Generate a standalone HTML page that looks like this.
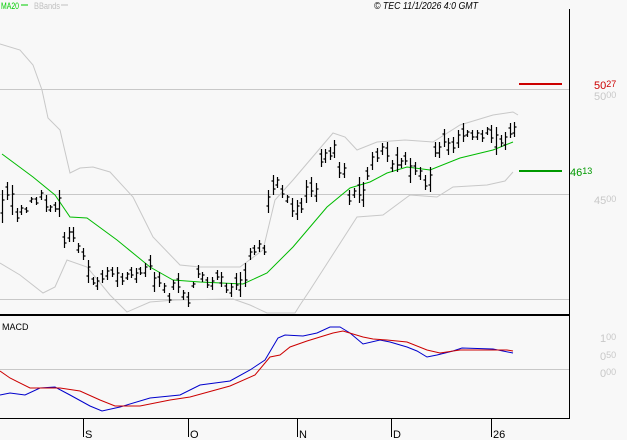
<!DOCTYPE html>
<html><head><meta charset="utf-8"><style>
html,body{margin:0;padding:0;background:#f8f8f8;}
svg{display:block;font-family:"Liberation Sans",sans-serif;}
</style></head><body>
<svg width="627" height="440" viewBox="0 0 627 440" xmlns="http://www.w3.org/2000/svg">
<rect width="627" height="440" fill="#f8f8f8"/>
<!-- header -->
<text x="1" y="9" font-size="9" fill="#00cc00" textLength="18" lengthAdjust="spacingAndGlyphs">MA20</text>
<line x1="21" y1="5" x2="28" y2="5" stroke="#00cc00"/>
<text x="34" y="9" font-size="9" fill="#c0c0c0" textLength="26" lengthAdjust="spacingAndGlyphs">BBands</text>
<line x1="61" y1="5" x2="68" y2="5" stroke="#c0c0c0"/>
<text x="374" y="9" font-size="10" font-style="italic" fill="#000" textLength="104" lengthAdjust="spacingAndGlyphs">© TEC 11/1/2026 4:0 GMT</text>
<!-- grid -->
<g stroke="#c8c8c8" stroke-width="1">
<line x1="0" y1="89.5" x2="569" y2="89.5"/>
<line x1="0" y1="194.5" x2="569" y2="194.5"/>
<line x1="0" y1="299.5" x2="569" y2="299.5"/>
<line x1="0" y1="369.5" x2="569" y2="369.5"/>
</g>
<!-- bbands -->
<g fill="none" stroke="#c8c8c8" stroke-width="1">
<polyline points="0,44 20,50 33,65 42,90 48,118 60,130 70,173 80,168 93,167 110,172 133,197 153,237 180,265 200,267 240,267 263,250 275,200 293,180 333,133 345,137 357,150 377,142 405,140 433,142 460,125 493,115 513,112 518,115"/>
<polyline points="0,263 20,275 43,293 55,287 67,260 87,267 110,295 127,312 150,302 175,300 233,299 250,305 267,313 295,313 300,305 310,290 357,217 383,215 410,195 437,197 453,187 487,185 505,181 513,172"/>
</g>
<polyline fill="none" stroke="#00bb00" stroke-width="1" points="2,154 33,177 55,195 70,217 87,218 117,240 150,267 173,280 200,282 243,284 267,273 293,247 327,207 350,188 370,182 387,173 407,167 430,170 460,158 493,150 513,142"/>
<!-- bars -->
<path id="bars" fill="none" stroke="#000" stroke-width="1.2" d=""/>
<!-- markers -->
<rect x="519" y="83" width="43" height="2" fill="#cc0000"/>
<rect x="519" y="170" width="43" height="2" fill="#009900"/>
<text x="594" y="89" font-size="11" fill="#cc0000">50<tspan font-size="9" dy="-2">27</tspan></text>
<text x="594" y="100" font-size="11" fill="#c8c8c8">50<tspan font-size="9" dy="-2">00</tspan></text>
<text x="570" y="176" font-size="11" fill="#009900">46<tspan font-size="9" dy="-2">13</tspan></text>
<text x="594" y="204" font-size="11" fill="#c8c8c8">45<tspan font-size="9" dy="-2">00</tspan></text>
<!-- frame -->
<line x1="569.5" y1="9" x2="569.5" y2="419" stroke="#000"/>
<rect x="0" y="314" width="570" height="2" fill="#000"/>
<line x1="0" y1="418.5" x2="570" y2="418.5" stroke="#000"/>
<!-- macd -->
<text x="2" y="330" font-size="9" fill="#000">MACD</text>
<polyline fill="none" stroke="#0000cc" stroke-width="1" points="0,395 10,393 25,395 40,388 55,387 70,395 90,406 102,411 120,407 150,398 180,395 200,385 230,381 250,370 265,360 278,338 285,335 303,336 317,333 330,327 340,327 350,333 363,344 380,340 390,342 407,347 417,351 427,357 437,355 453,351 462,348 493,349 513,353"/>
<polyline fill="none" stroke="#cc0000" stroke-width="1" points="0,371 10,378 30,388 60,388 80,391 100,400 115,406 140,406 170,400 190,397 230,386 255,375 270,357 280,355 290,347 307,341 320,337 333,333 343,331 363,337 373,339 387,340 407,342 427,350 440,353 460,350 507,350 513,351"/>
<text x="600" y="342" font-size="11" fill="#c8c8c8">1<tspan font-size="9" dy="-2">00</tspan></text>
<text x="600" y="360" font-size="11" fill="#c8c8c8">0<tspan font-size="9" dy="-2">50</tspan></text>
<text x="600" y="377" font-size="11" fill="#c8c8c8">0<tspan font-size="9" dy="-2">00</tspan></text>
<!-- x axis -->
<g stroke="#000">
<line x1="83.5" y1="419" x2="83.5" y2="437"/>
<line x1="188.5" y1="419" x2="188.5" y2="437"/>
<line x1="297.5" y1="419" x2="297.5" y2="437"/>
<line x1="391.5" y1="419" x2="391.5" y2="437"/>
<line x1="491.5" y1="419" x2="491.5" y2="437"/>
</g>
<g font-size="11" fill="#000">
<text x="85" y="438">S</text>
<text x="190" y="438">O</text>
<text x="299" y="438">N</text>
<text x="393" y="438">D</text>
<text x="493" y="438">26</text>
</g>
</svg>
<script>
var b=[[2,190,223],[7,182,200],[12,185,215],[17,208,222],[21,205,215],[26,207,213],[31,197,203],[36,197,205],[41,190,200],[46,195,212],[50,205,212],[55,202,212],[59,190,217],[64,232,248],[69,227,242],[73,227,242],[78,243,253],[83,248,260],[88,260,283],[93,277,285],[97,277,290],[102,270,283],[107,267,280],[112,267,277],[117,267,287],[122,273,285],[127,272,280],[131,267,278],[136,268,283],[140,267,275],[145,263,277],[150,255,270],[154,272,292],[159,272,287],[164,283,293],[169,293,303],[173,280,290],[178,273,293],[183,290,300],[188,292,307],[193,282,288],[198,265,278],[202,272,282],[207,277,288],[212,277,290],[217,270,280],[221,272,287],[226,283,293],[231,283,297],[236,273,290],[240,272,297],[245,263,287],[250,248,260],[254,245,255],[259,240,252],[264,245,255],[268,190,213],[273,175,195],[277,177,188],[282,185,198],[287,195,203],[292,198,217],[297,200,220],[301,198,213],[306,180,203],[311,177,197],[316,183,202],[321,149,167],[325,149,163],[330,147,160],[334,140,158],[339,162,178],[344,163,178],[349,190,205],[354,188,198],[359,177,203],[363,182,207],[367,167,180],[372,152,170],[377,148,162],[382,143,155],[387,142,162],[392,160,172],[397,147,172],[401,158,168],[405,152,165],[410,158,183],[415,162,175],[420,167,180],[425,175,190],[430,167,192],[435,142,157],[439,142,158],[444,129,147],[448,138,155],[453,137,153],[458,130,148],[463,123,142],[467,130,137],[472,130,140],[477,130,140],[482,130,142],[487,127,135],[491,125,143],[496,127,155],[501,135,147],[505,132,150],[510,123,138],[514,122,137]];
var d="";b.forEach(function(r,i){var x=r[0]+0.5,h=r[1],l=r[2],o=h+(l-h)*(i%2?0.3:0.7),c=h+(l-h)*(i%2?0.7:0.3);
d+="M"+x+" "+h+"V"+l+"M"+(x-2)+" "+o.toFixed(0)+"H"+x+"M"+x+" "+c.toFixed(0)+"H"+(x+2);});
document.getElementById("bars").setAttribute("d",d);
</script>
</body></html>
